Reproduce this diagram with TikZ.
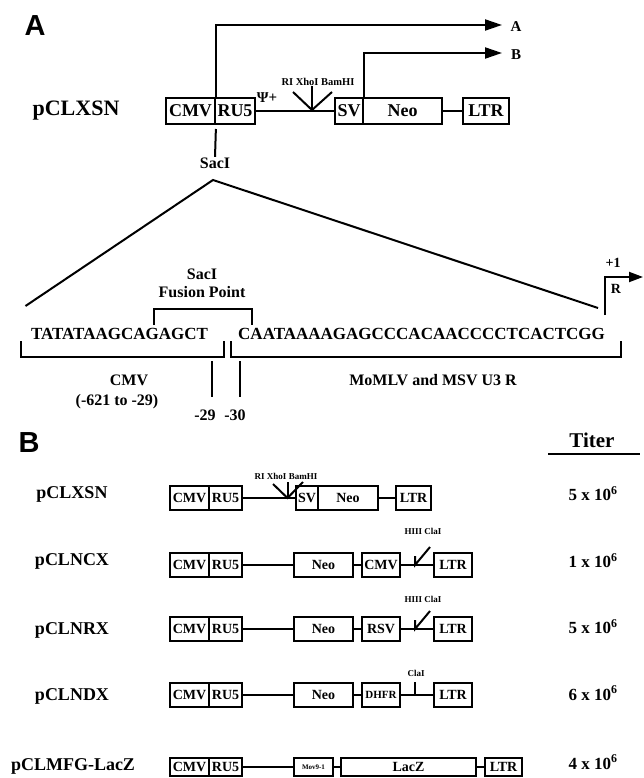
\documentclass[tikz,border=0pt]{standalone}
\usepackage{fontspec}
\setmainfont{Liberation Serif}
\newfontfamily\panelfont{Liberation Sans}
\usetikzlibrary{arrows.meta}
\newcommand{\fs}[1]{\fontsize{#1}{#1}\selectfont\bfseries}
\begin{document}
\begin{tikzpicture}[x=1pt,y=-1pt,
  ln/.style={line width=2pt},
  lnb/.style={line width=2pt},
  blkA/.style={draw, line width=2pt, inner sep=0pt, minimum height=26pt, font=\fs{18}},
  blkB/.style={draw, line width=2pt, inner sep=0pt, minimum height=24pt, font=\fs{14}},
  lbl/.style={inner sep=0.5pt, font=\fs{16}},
  rowname/.style={inner sep=0pt, font=\fs{18}},
  titerlbl/.style={inner sep=0pt, font=\fs{17}},
  sitelbl/.style={inner sep=0pt, font=\fs{9}},
  panel/.style={inner sep=0pt, font=\panelfont\bfseries\fontsize{29}{29}\selectfont},
  seq/.style={inner sep=0pt, anchor=west, font=\fs{17}},
  bigarrow/.style={ln, -{Triangle[length=17pt,width=11pt]}}
]
\useasboundingbox (0,0) rectangle (644,778);

% ---------------- Panel A ----------------
\node[panel] (pA) at (35,26) {A};
\node[rowname, font=\fs{22}] (nameA) at (76,111) {pCLXSN};

\node[blkA, minimum width=49pt] (cmvA) at (190.5,111) {CMV};
\node[blkA, minimum width=40pt] (ru5A) at (235,111) {RU5};
\node[blkA, minimum width=28pt] (svA)  at (349,111) {SV};
\node[blkA, minimum width=79pt] (neoA) at (402.5,111) {Neo};
\node[blkA, minimum width=46pt] (ltrA) at (486,111) {LTR};
\draw[ln] (ru5A.east) -- (svA.west);
\draw[ln] (neoA.east) -- (ltrA.west);

\node[inner sep=0pt, font=\fs{15}] (psiA) at (267,98) {Ψ+};
\node[sitelbl, font=\fs{10.5}] (sitesA) at (318,82) {RI XhoI BamHI};
\coordinate (vA) at (312,110);
\coordinate (vAl) at (293,92);
\coordinate (vAr) at (332,92);
\coordinate (vAm) at (312,86);
\draw[ln] (vAl) -- (vA) -- (vAr);
\draw[ln] (vA) -- (vAm);

\coordinate (tipA) at (502,25);
\coordinate (tipB) at (502,53);
\node[inner sep=0pt, font=\fs{15}] (labA) at (516,27) {A};
\node[inner sep=0pt, font=\fs{15}] (labB) at (516,55) {B};
\draw[bigarrow] (cmvA.north east) |- (tipA);
\draw[bigarrow] (svA.north east) |- (tipB);

\node[lbl] (sacI) at (215,163) {SacI};
\draw[ln, shorten <=4pt] (cmvA.south east) -- (sacI.north);

\coordinate (apex) at (213,180);
\coordinate (triL) at (25.5,306);
\coordinate (triR) at (598,308);
\draw[ln] (triL) -- (apex) -- (triR);

\node[lbl, align=center] (fusion) at (202,283) {SacI\\[2pt]Fusion Point};
\coordinate (fbL) at (154,325);
\coordinate (fbT) at (200,309);
\coordinate (fbR) at (252,325);
\draw[ln] (fbL) |- (fbT) -| (fbR);

\node[seq] (seq1) at (30.8,334) {TATATAAGCAGAGCT};
\node[seq] (seq2) at (238,334) {CAATAAAAGAGCCCACAACCCCTCACTCGG};

\coordinate (tssB) at (605,315);
\coordinate (tssT) at (643,277);
\draw[ln, -{Triangle[length=14pt,width=10pt]}] (tssB) |- (tssT);
\node[inner sep=0pt, font=\fs{14}] (plus1) at (613,263) {+1};
\node[inner sep=0pt, font=\fs{14}] (rlab) at (616,289) {R};

\coordinate (lbA) at (21,341);
\coordinate (lbM) at (120,357);
\coordinate (lbB) at (224,341);
\draw[ln] (lbA) |- (lbM) -| (lbB);
\coordinate (rbA) at (231,341);
\coordinate (rbM) at (420,357);
\coordinate (rbB) at (621,341);
\draw[ln] (rbA) |- (rbM) -| (rbB);

\coordinate (t29a) at (212,361);
\coordinate (t29b) at (212,397);
\coordinate (t30a) at (240,361);
\coordinate (t30b) at (240,397);
\draw[lnb] (t29a) -- (t29b);
\draw[lnb] (t30a) -- (t30b);

\node[lbl] (cmvL) at (129,380) {CMV};
\node[lbl] (cmvRange) at (117,402) {(-621 to -29)};
\node[lbl] (m29) at (205,415) {-29};
\node[lbl] (m30) at (235,415) {-30};
\node[lbl] (momlv) at (433,380) {MoMLV and MSV U3 R};

% ---------------- Panel B ----------------
\node[panel] (pB) at (29,443) {B};
\node[inner sep=0pt, font=\fs{21}] (titer) at (592,440) {Titer};
\coordinate (ulL) at (548,454);
\coordinate (ulR) at (640,454);
\draw[ln] (ulL) -- (ulR);

% Row 1: pCLXSN
\node[rowname] (name1) at (72,494) {pCLXSN};
\node[blkB, minimum width=39pt] (cmv1) at (189.5,498) {CMV};
\node[blkB, minimum width=33pt] (ru51) at (225.5,498) {RU5};
\node[blkB, minimum width=22pt] (sv1)  at (307,498) {SV};
\node[blkB, minimum width=60pt] (neo1) at (348,498) {Neo};
\node[blkB, minimum width=35pt] (ltr1) at (413.5,498) {LTR};
\draw[lnb] (ru51.east) -- (sv1.west);
\draw[lnb] (neo1.east) -- (ltr1.west);
\node[sitelbl] (sites1) at (286,476.5) {RI XhoI BamHI};
\coordinate (v1) at (287.5,498);
\coordinate (v1l) at (273,484);
\coordinate (v1r) at (303,482);
\coordinate (v1m) at (287.5,482);
\draw[lnb] (v1l) -- (v1) -- (v1r);
\draw[lnb] (v1) -- (v1m);
\node[titerlbl] (titer1) at (593,494) {5 x 10\textsuperscript{6}};

% Row 2: pCLNCX
\node[rowname] (name2) at (72,561) {pCLNCX};
\node[blkB, minimum width=39pt] (cmv2) at (189.5,565) {CMV};
\node[blkB, minimum width=33pt] (ru52) at (225.5,565) {RU5};
\node[blkB, minimum width=59pt] (neo2) at (323.5,565) {Neo};
\node[blkB, minimum width=38pt] (cmvb2) at (381,565) {CMV};
\node[blkB, minimum width=38pt] (ltr2) at (453,565) {LTR};
\draw[lnb] (ru52.east) -- (neo2.west);
\draw[lnb] (neo2.east) -- (cmvb2.west);
\draw[lnb] (cmvb2.east) -- (ltr2.west);
\node[sitelbl] (sites2) at (423,531) {HIII ClaI};
\coordinate (h2b) at (415,565);
\coordinate (h2t) at (415,556);
\coordinate (c2t) at (430,547);
\draw[lnb] (h2t) -- (h2b) -- (c2t);
\node[titerlbl] (titer2) at (593,561) {1 x 10\textsuperscript{6}};

% Row 3: pCLNRX
\node[rowname] (name3) at (72,630) {pCLNRX};
\node[blkB, minimum width=39pt] (cmv3) at (189.5,629) {CMV};
\node[blkB, minimum width=33pt] (ru53) at (225.5,629) {RU5};
\node[blkB, minimum width=59pt] (neo3) at (323.5,629) {Neo};
\node[blkB, minimum width=38pt] (rsv3) at (381,629) {RSV};
\node[blkB, minimum width=38pt] (ltr3) at (453,629) {LTR};
\draw[lnb] (ru53.east) -- (neo3.west);
\draw[lnb] (neo3.east) -- (rsv3.west);
\draw[lnb] (rsv3.east) -- (ltr3.west);
\node[sitelbl] (sites3) at (423,599) {HIII ClaI};
\coordinate (h3b) at (415,629);
\coordinate (h3t) at (415,620);
\coordinate (c3t) at (430,611);
\draw[lnb] (h3t) -- (h3b) -- (c3t);
\node[titerlbl] (titer3) at (593,627) {5 x 10\textsuperscript{6}};

% Row 4: pCLNDX
\node[rowname] (name4) at (72,696) {pCLNDX};
\node[blkB, minimum width=39pt] (cmv4) at (189.5,695) {CMV};
\node[blkB, minimum width=33pt] (ru54) at (225.5,695) {RU5};
\node[blkB, minimum width=59pt] (neo4) at (323.5,695) {Neo};
\node[blkB, minimum width=38pt, font=\fs{11}] (dhfr4) at (381,695) {DHFR};
\node[blkB, minimum width=38pt] (ltr4) at (453,695) {LTR};
\draw[lnb] (ru54.east) -- (neo4.west);
\draw[lnb] (neo4.east) -- (dhfr4.west);
\draw[lnb] (dhfr4.east) -- (ltr4.west);
\node[sitelbl] (clai4) at (416,673) {ClaI};
\coordinate (c4t) at (415,682);
\coordinate (c4b) at (415,695);
\draw[lnb] (c4t) -- (c4b);
\node[titerlbl] (titer4) at (593,693) {6 x 10\textsuperscript{6}};

% Row 5: pCLMFG-LacZ
\node[rowname] (name5) at (73,766) {pCLMFG-LacZ};
\node[blkB, minimum height=18pt, minimum width=39pt]  (cmv5) at (189.5,767) {CMV};
\node[blkB, minimum height=18pt, minimum width=33pt]  (ru55) at (225.5,767) {RU5};
\node[blkB, minimum height=18pt, minimum width=39pt, font=\fs{7}] (mov5) at (313.5,767) {Mov9-1};
\node[blkB, minimum height=18pt, minimum width=135pt] (lacz5) at (408.5,767) {LacZ};
\node[blkB, minimum height=18pt, minimum width=37pt]  (ltr5) at (503.5,767) {LTR};
\draw[lnb] (ru55.east) -- (mov5.west);
\draw[lnb] (mov5.east) -- (lacz5.west);
\draw[lnb] (lacz5.east) -- (ltr5.west);
\node[titerlbl] (titer5) at (593,762) {4 x 10\textsuperscript{6}};
\end{tikzpicture}
\end{document}
